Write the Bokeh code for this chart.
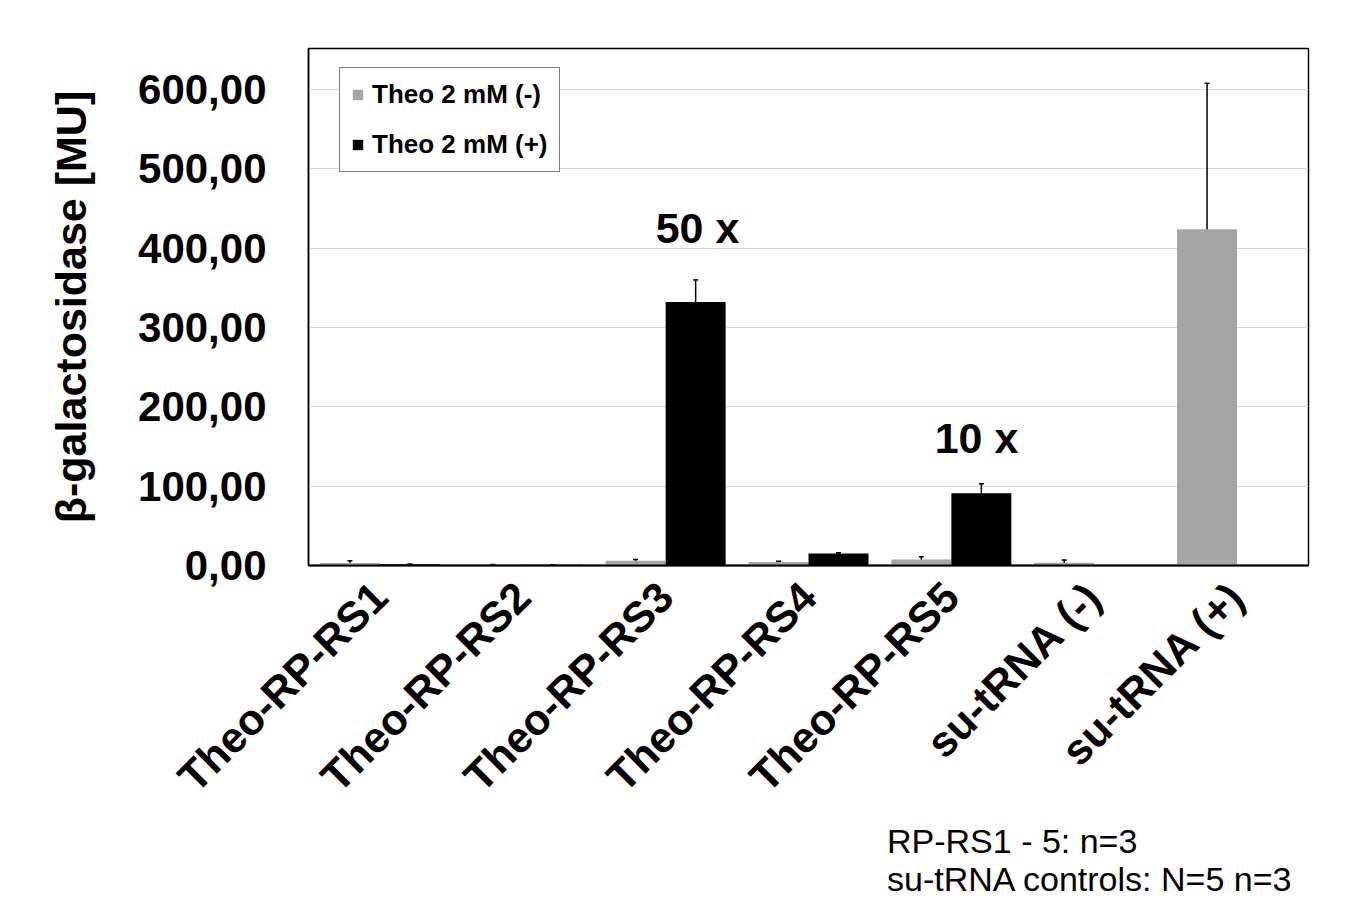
from bokeh.plotting import figure
from bokeh.layouts import column
from bokeh.models import (ColumnDataSource, FactorRange, Range1d, FixedTicker, Whisker,
                          TeeHead, Label, Legend, Div)
from bokeh.transform import dodge
from bokeh.embed import file_html
from bokeh.resources import INLINE
import math

categories = ["Theo-RP-RS1", "Theo-RP-RS2", "Theo-RP-RS3", "Theo-RP-RS4",
              "Theo-RP-RS5", "su-tRNA (-)", "su-tRNA (+)"]
theo_minus = [3.0, 0.8, 6.0, 4.5, 7.5, 3.5, 424.0]
theo_minus_err = [3.0, 0.5, 1.5, 1.0, 3.5, 3.5, 184.0]
theo_plus = [1.5, 0.8, 332.0, 15.0, 91.0, 0.0, 0.0]
theo_plus_err = [0.5, 0.3, 28.0, 1.0, 12.0, 0.0, 0.0]
y_ticks = [0, 100, 200, 300, 400, 500, 600]
y_tick_labels = ["0,00", "100,00", "200,00", "300,00", "400,00", "500,00", "600,00"]
annotations = [("RP-RS3", "50 x"), ("RP-RS5", "10 x")]
footnote = ["RP-RS1 - 5: n=3", "su-tRNA controls: N=5 n=3"]

FONT = "Liberation Sans"
GRAY = "#a6a6a6"

src = ColumnDataSource(dict(
    cat=categories,
    minus=theo_minus,
    plus=theo_plus,
    minus_lo=[v - e for v, e in zip(theo_minus, theo_minus_err)],
    minus_hi=[v + e for v, e in zip(theo_minus, theo_minus_err)],
))
keep = [i for i, e in enumerate(theo_plus_err) if e > 0]
src_plus_err = ColumnDataSource(dict(
    cat=[categories[i] for i in keep],
    lo=[theo_plus[i] - theo_plus_err[i] for i in keep],
    hi=[theo_plus[i] + theo_plus_err[i] for i in keep],
))

p = figure(width=1345, height=822, output_backend="svg", toolbar_location=None,
           x_range=FactorRange(*categories, range_padding=0),
           y_range=Range1d(0, 651.7),
           min_border_left=308, min_border_right=37, min_border_top=48,
           min_border_bottom=257)

r1 = p.vbar(x=dodge("cat", -0.21, range=p.x_range), top="minus", width=0.42,
            source=src, fill_color=GRAY, line_color=None)
r2 = p.vbar(x=dodge("cat", 0.21, range=p.x_range), top="plus", width=0.42,
            source=src, fill_color="black", line_color=None)

head = dict(size=5, line_color="black", line_width=1.5)
w1 = Whisker(source=src, base=dodge("cat", -0.21, range=p.x_range), lower="minus_lo",
             upper="minus_hi", line_color="black", line_width=1.5,
             upper_head=TeeHead(**head), lower_head=TeeHead(**head))
w2 = Whisker(source=src_plus_err, base=dodge("cat", 0.21, range=p.x_range), lower="lo",
             upper="hi", line_color="black", line_width=1.5,
             upper_head=TeeHead(**head), lower_head=TeeHead(**head))
p.add_layout(w1)
p.add_layout(w2)

# axes
p.outline_line_color = "black"
p.outline_line_width = 1.5
p.xgrid.grid_line_color = None
p.ygrid.grid_line_color = "#d9d9d9"
p.ygrid.grid_line_width = 1.2
p.ygrid.ticker = FixedTicker(ticks=y_ticks)

p.yaxis.ticker = FixedTicker(ticks=y_ticks)
p.yaxis.major_label_overrides = {t: l for t, l in zip(y_ticks, y_tick_labels)}
p.yaxis.major_label_text_font = FONT
p.yaxis.major_label_text_font_style = "bold"
p.yaxis.major_label_text_font_size = "42px"
p.yaxis.major_label_text_color = "black"
p.yaxis.major_label_standoff = 36
p.yaxis.major_tick_line_color = None
p.yaxis.minor_tick_line_color = None
p.yaxis.axis_line_color = "black"
p.yaxis.axis_line_width = 1.5
p.yaxis.axis_label = "β-galactosidase [MU]"
p.yaxis.axis_label_text_font = FONT
p.yaxis.axis_label_text_font_style = "bold"
p.yaxis.axis_label_text_font_size = "43px"
p.yaxis.axis_label_text_color = "black"
p.yaxis.axis_label_standoff = 40

p.xaxis.major_label_orientation = math.pi / 4
p.xaxis.major_label_text_font = FONT
p.xaxis.major_label_text_font_style = "bold"
p.xaxis.major_label_text_font_size = "43px"
p.xaxis.major_label_text_color = "black"
p.xaxis.major_label_standoff = 18
p.xaxis.major_tick_line_color = None
p.xaxis.minor_tick_line_color = None
p.xaxis.axis_line_color = "black"
p.xaxis.axis_line_width = 2

# legend
legend = Legend(items=[("Theo 2 mM (-)", [r1]), ("Theo 2 mM (+)", [r2])],
                location=(31, 393), orientation="vertical",
                border_line_color="black", border_line_width=1.5,
                background_fill_color="white", background_fill_alpha=1,
                padding=11, spacing=19, margin=0,
                glyph_width=13, glyph_height=13, label_standoff=8,
                label_text_font=FONT, label_text_font_style="bold",
                label_text_font_size="26px", label_text_color="black")
p.add_layout(legend, "center")

# annotations
ann_pos = {"RP-RS3": (2.723, 425), "RP-RS5": (4.676, 161)}
for key, txt in annotations:
    x, y = ann_pos[key]
    p.add_layout(Label(x=x, y=y, text=txt, text_align="center", text_baseline="alphabetic",
                       text_font=FONT, text_font_style="bold", text_font_size="43px",
                       text_color="black"))

# footnote below the chart
note_html = ("<div style=\"margin:0 0 0 887px; padding:0; height:76px; overflow:hidden; "
             "white-space:nowrap; font-family:'Liberation Sans', Arial, sans-serif; "
             "font-size:34px; line-height:38px; color:black;\">"
             + "<br>".join(footnote) + "</div>")
note = Div(text=note_html, width=1345, height=76,
           styles={"overflow": "hidden", "margin": "0", "padding": "0"})

layout = column(p, note, spacing=0)
open("out.html", "w").write(file_html(layout, INLINE))
